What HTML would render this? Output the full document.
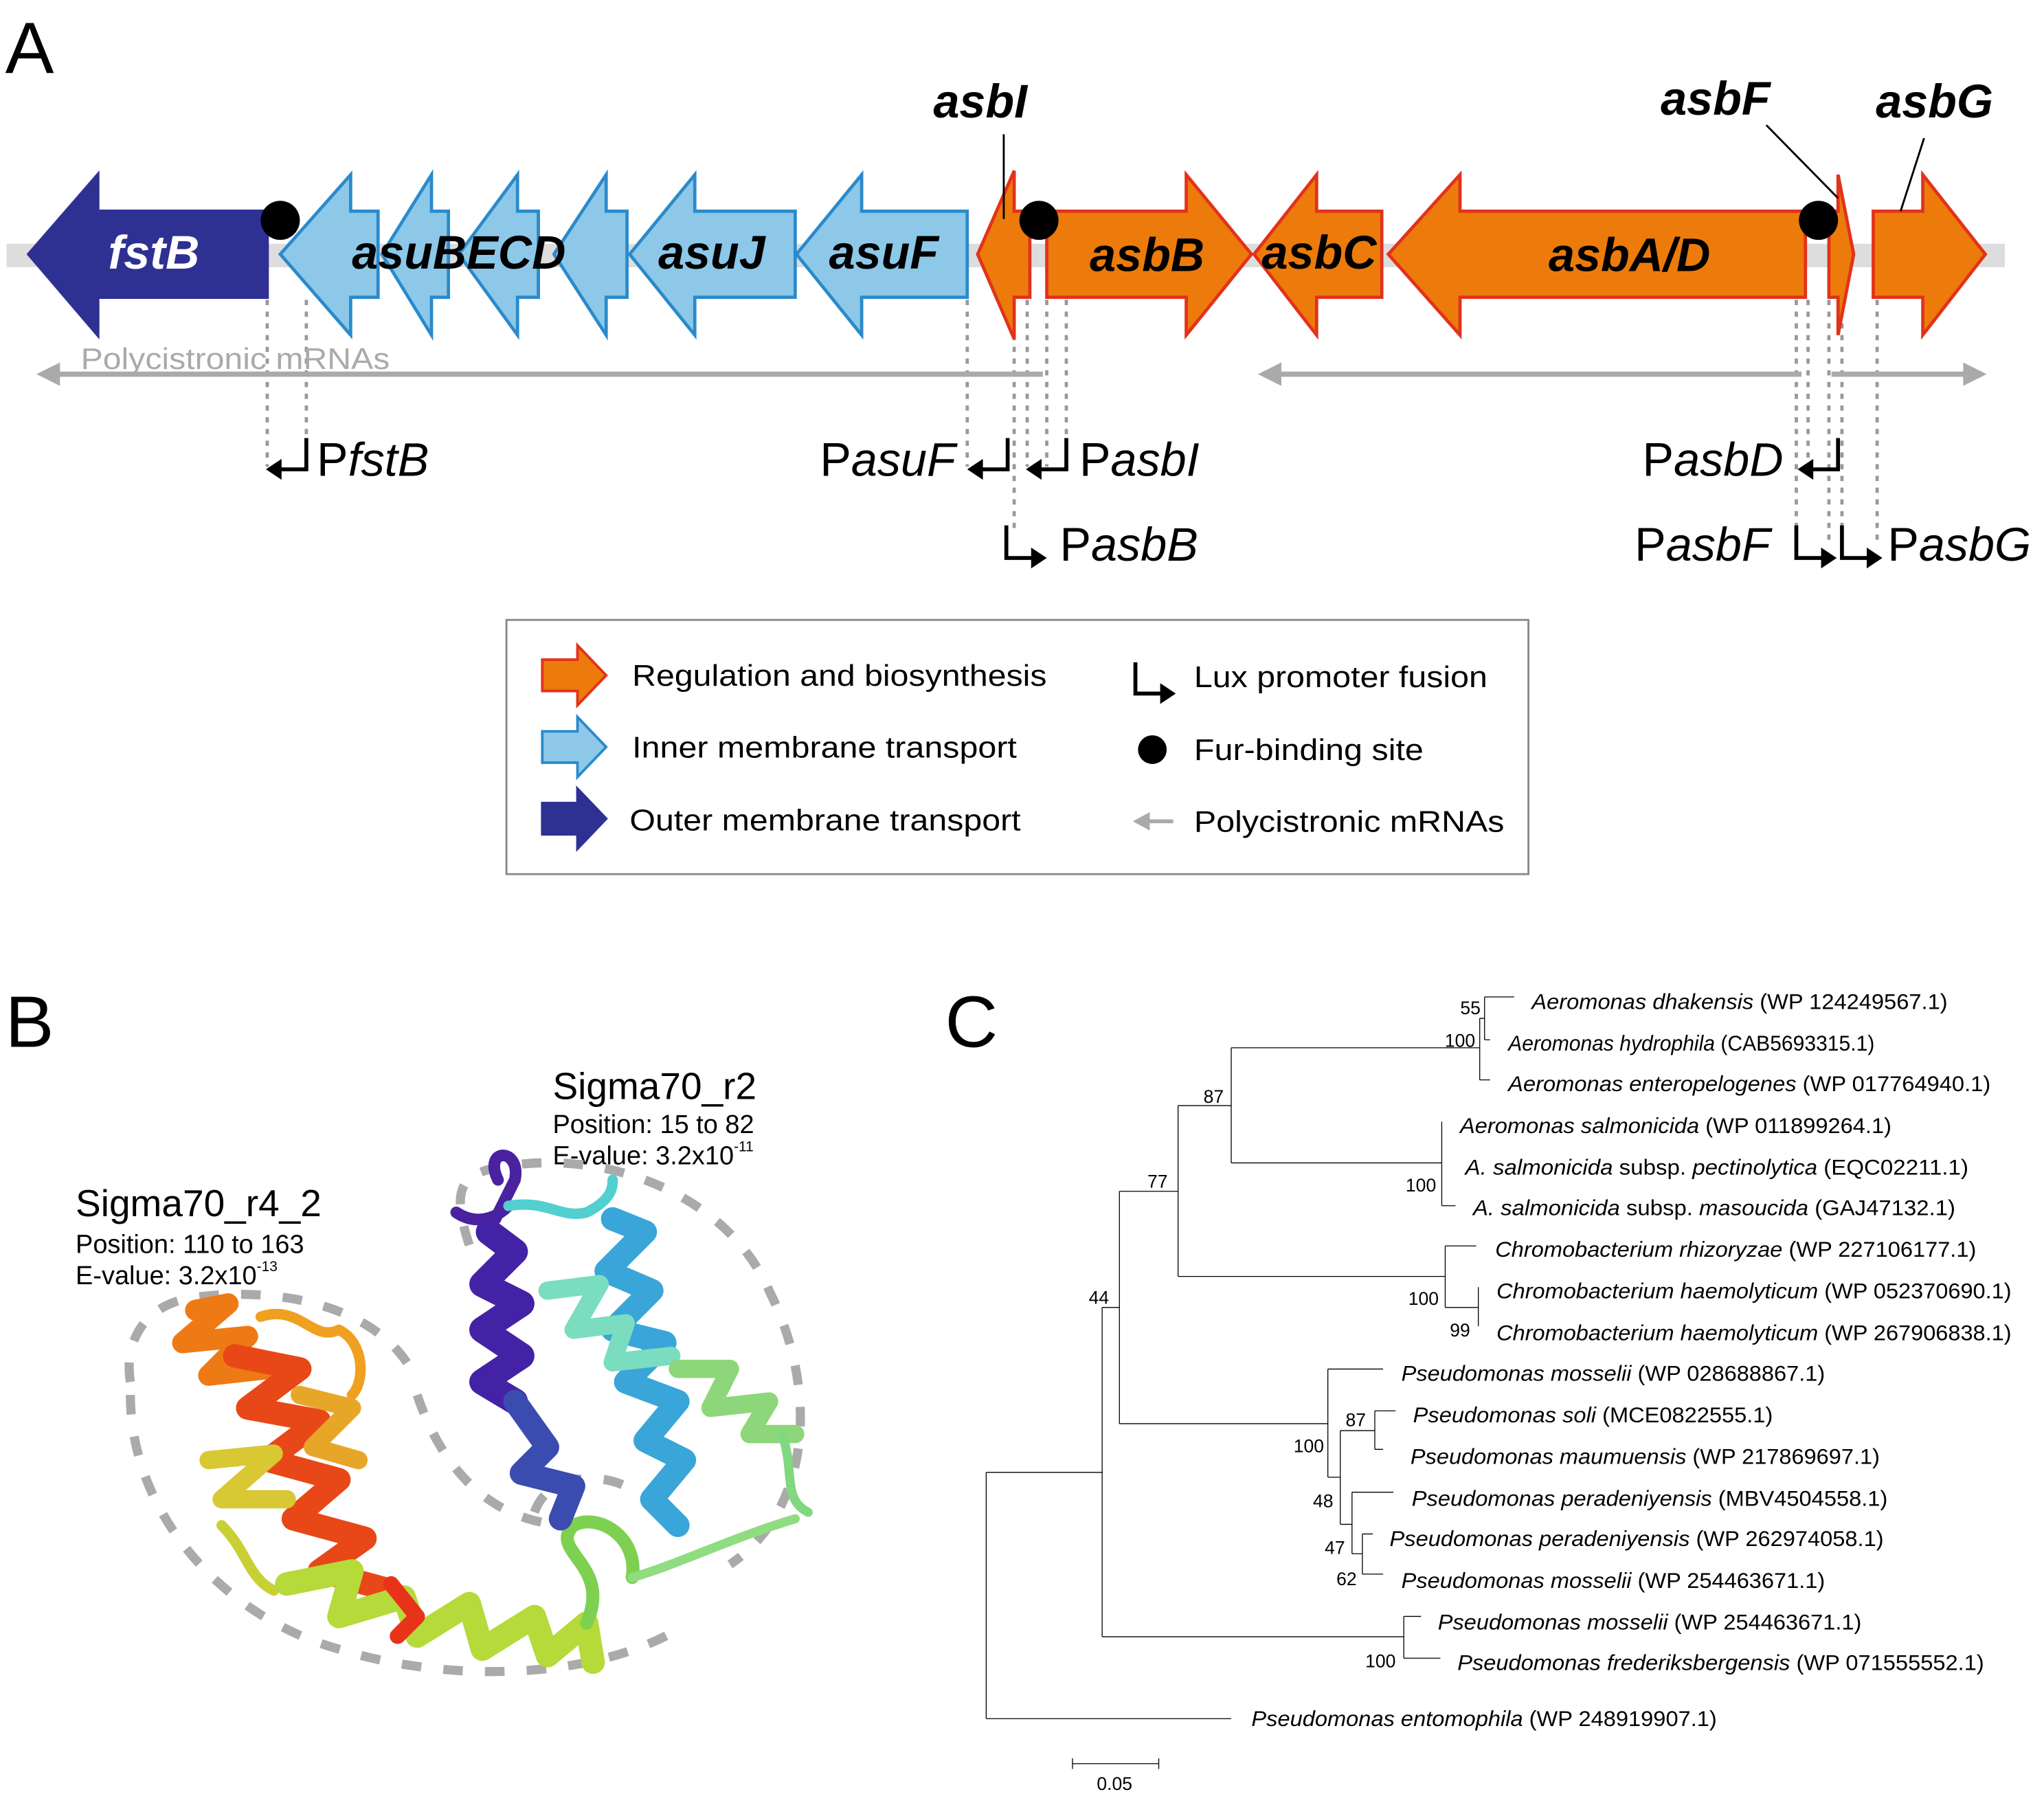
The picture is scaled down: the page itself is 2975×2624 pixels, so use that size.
<!DOCTYPE html>
<html><head><meta charset="utf-8"><style>html,body{margin:0;padding:0;background:#fff}svg{display:block}</style></head><body>
<svg width="2975" height="2624" viewBox="0 0 1568 1383" xmlns="http://www.w3.org/2000/svg" font-family="Liberation Sans, sans-serif">
<rect width="1568" height="1383" fill="#fff"/>
<text x="4" y="56" font-size="56">A</text>
<text x="4" y="803" font-size="56">B</text>
<text x="725" y="803" font-size="56">C</text>

<rect x="5" y="187" width="1533" height="18" fill="#ddd"/>

<g stroke="#999" stroke-width="2.5" stroke-dasharray="4,5">
<path d="M205 230V358M235 230V345M742 230V358M778 230V408M788 230V358M803 230V358M818 230V345M1378 230V418M1387 230V358M1403 230V418M1413 230V418M1440 230V418"/>
</g>

<g stroke-width="2.5" stroke-linejoin="miter">
<polygon points="22,195 75,134 75,162 205,162 205,228 75,228 75,257" fill="#2E3192" stroke="#2E3192"/>
<g fill="#8DC8E8" stroke="#2A8ACB">
<polygon points="425,195 465,134 465,162 481,162 481,228 465,228 465,257"/>
<polygon points="352,195 397,134 397,162 413,162 413,228 397,228 397,257"/>
<polygon points="293,195 331,134 331,162 344,162 344,228 331,228 331,257"/>
<polygon points="215,195 269,134 269,162 290,162 290,228 269,228 269,257"/>
<polygon points="483,195 533,134 533,162 610,162 610,228 533,228 533,257"/>
<polygon points="611,195 661,134 661,162 742,162 742,228 661,228 661,257"/>
</g>
<g fill="#EC7B0B" stroke="#E2321C">
<polygon points="750,195 778,131 778,162 790,162 790,228 778,228 778,260"/>
<polygon points="803,162 910,162 910,134 960,195 910,257 910,228 803,228"/>
<polygon points="962,195 1010,134 1010,162 1060,162 1060,228 1010,228 1010,257"/>
<polygon points="1065,195 1120,134 1120,162 1385,162 1385,228 1120,228 1120,257"/>
<polygon points="1403,162 1410,162 1410,134 1422,195 1410,257 1410,228 1403,228"/>
<polygon points="1437,162 1475,162 1475,134 1523,195 1475,257 1475,228 1437,228"/>
</g>
</g>
<g font-weight="bold" font-style="italic" font-size="36">
<text x="118" y="206" text-anchor="middle" fill="#fff">fstB</text>
<text x="352" y="206" text-anchor="middle">asuBECD</text>
<text x="546" y="206" text-anchor="middle">asuJ</text>
<text x="678" y="206" text-anchor="middle">asuF</text>
<text x="880" y="208" text-anchor="middle">asbB</text>
<text x="1012" y="206" text-anchor="middle">asbC</text>
<text x="1250" y="208" text-anchor="middle">asbA/D</text>
<text x="752" y="90" text-anchor="middle">asbI</text>
<text x="1316" y="88" text-anchor="middle">asbF</text>
<text x="1484" y="90" text-anchor="middle">asbG</text>
</g>
<g stroke="#000" stroke-width="1.5">
<path d="M770 103V168M1355 96L1410 152M1476 106L1458 162"/>
</g>
<g fill="#000"><circle cx="215" cy="169" r="15"/><circle cx="797" cy="169" r="15"/><circle cx="1395" cy="169" r="15"/></g>

<g stroke="#aaa" stroke-width="4" fill="#aaa">
<path d="M40 287H800M978 287H1382M1405 287H1510"/>
</g>
<g fill="#aaa"><polygon points="28,287 46,278 46,296"/><polygon points="965,287 983,278 983,296"/><polygon points="1524,287 1506,278 1506,296"/></g>
<text x="62" y="283" font-size="23" fill="#aaa" textLength="237" lengthAdjust="spacingAndGlyphs">Polycistronic mRNAs</text>

<g stroke="#000" stroke-width="3" fill="none">
<path d="M235 336V360H214"/><path d="M773 336V360H752"/><path d="M818 336V360H797"/><path d="M1410 336V360H1389"/>
<path d="M772 403V428H793"/><path d="M1378 403V428H1399"/><path d="M1413 403V428H1434"/>
</g>
<g fill="#000">
<polygon points="204,360 216,352 216,368"/><polygon points="742,360 754,352 754,368"/><polygon points="787,360 799,352 799,368"/><polygon points="1379,360 1391,352 1391,368"/>
<polygon points="803,428 791,420 791,436"/><polygon points="1409,428 1397,420 1397,436"/><polygon points="1444,428 1432,420 1432,436"/>
</g>
<g font-size="36">
<text x="243" y="365">P<tspan font-style="italic">fstB</tspan></text>
<text x="733" y="365" text-anchor="end">P<tspan font-style="italic">asuF</tspan></text>
<text x="828" y="365">P<tspan font-style="italic">asbI</tspan></text>
<text x="813" y="430">P<tspan font-style="italic">asbB</tspan></text>
<text x="1368" y="365" text-anchor="end">P<tspan font-style="italic">asbD</tspan></text>
<text x="1358" y="430" text-anchor="end">P<tspan font-style="italic">asbF</tspan></text>
<text x="1448" y="430">P<tspan font-style="italic">asbG</tspan></text>
</g>

<rect x="388.5" y="475.5" width="784" height="195" fill="#fff" stroke="#888" stroke-width="1.5"/>
<polygon points="416,506 443,506 443,495 465,518 443,541 443,530 416,530" fill="#EC7B0B" stroke="#E2321C" stroke-width="2"/>
<polygon points="416,561 443,561 443,550 465,573 443,596 443,585 416,585" fill="#8DC8E8" stroke="#2A8ACB" stroke-width="2"/>
<polygon points="416,616 443,616 443,605 465,628 443,651 443,640 416,640" fill="#2E3192" stroke="#2E3192" stroke-width="2"/>
<g font-size="23" lengthAdjust="spacingAndGlyphs">
<text x="485" y="526" textLength="318" lengthAdjust="spacingAndGlyphs">Regulation and biosynthesis</text>
<text x="485" y="581" textLength="295" lengthAdjust="spacingAndGlyphs">Inner membrane transport</text>
<text x="483" y="637" textLength="300" lengthAdjust="spacingAndGlyphs">Outer membrane transport</text>
<text x="916" y="527" textLength="225" lengthAdjust="spacingAndGlyphs">Lux promoter fusion</text>
<text x="916" y="583" textLength="176" lengthAdjust="spacingAndGlyphs">Fur-binding site</text>
<text x="916" y="638" textLength="238" lengthAdjust="spacingAndGlyphs">Polycistronic mRNAs</text>
</g>
<path d="M871 508V532H892" stroke="#000" stroke-width="3" fill="none"/><polygon points="902,532 890,524 890,540"/>
<circle cx="884" cy="575" r="11"/>
<path d="M880 630H900" stroke="#aaa" stroke-width="3"/><polygon points="869,630 882,623 882,637" fill="#aaa"/>

<text x="424" y="843" font-size="29">Sigma70_r2</text>
<text x="424" y="869" font-size="20">Position: 15 to 82</text>
<text x="424" y="893" font-size="20">E-value: 3.2x10<tspan font-size="11" dy="-10">-11</tspan></text>
<text x="58" y="933" font-size="29">Sigma70_r4_2</text>
<text x="58" y="961" font-size="20">Position: 110 to 163</text>
<text x="58" y="985" font-size="20">E-value: 3.2x10<tspan font-size="11" dy="-10">-13</tspan></text>

<g fill="none" stroke="#aaa" stroke-width="7" stroke-dasharray="15,17">
<path d="M100 1060C95 1030 110 1000 150 995C230 985 300 1010 320 1060"/>
<path d="M100 1070C100 1160 170 1240 260 1265C340 1290 450 1290 520 1250"/>
<path d="M360 955C345 910 355 900 385 895C470 880 560 920 590 990C630 1070 620 1160 560 1200"/>
<path d="M320 1070C340 1130 380 1170 440 1170"/>
<path d="M410 1160C420 1130 460 1130 480 1140"/>
</g>
<g fill="none" stroke-linecap="round" stroke-linejoin="round">
<path d="M150 1005L175 1000L140 1030L190 1025L160 1055L205 1050" stroke="#EE7A15" stroke-width="16"/>
<path d="M200 1010C230 1000 240 1030 260 1020C280 1030 280 1060 270 1070" stroke="#F0A020" stroke-width="8"/>
<path d="M180 1040L230 1050L190 1080L245 1090L205 1120L260 1135L225 1165L280 1180L245 1205L300 1220" stroke="#E84818" stroke-width="18"/>
<path d="M230 1070L270 1080L240 1110L275 1120" stroke="#E8A628" stroke-width="14"/>
<path d="M160 1120L210 1115L170 1150L220 1150" stroke="#D8C834" stroke-width="14"/>
<path d="M170 1170C190 1190 190 1210 210 1220" stroke="#C9D034" stroke-width="8"/>
<path d="M220 1215L270 1205L260 1240L310 1225L320 1255L360 1230L370 1265L410 1240L420 1270L450 1245L455 1275" stroke="#B5DA3A" stroke-width="18"/>
<path d="M300 1215L320 1240L305 1255" stroke="#E8331A" stroke-width="12"/>
<path d="M450 1245C470 1200 420 1190 440 1170C460 1160 490 1180 485 1210" stroke="#7DD050" stroke-width="10"/>
<path d="M485 1210C520 1200 560 1180 610 1165" stroke="#90DC80" stroke-width="7"/>
<path d="M382 905C370 880 400 880 395 905L380 935M350 930C365 940 380 935 390 925" stroke="#4A22A0" stroke-width="9"/>
<path d="M375 945L395 960L370 985L400 1000L370 1020L400 1040L370 1060L395 1075" stroke="#4422A5" stroke-width="20"/>
<path d="M395 1075L420 1110L400 1130L440 1140L430 1165" stroke="#3A4CB0" stroke-width="18"/>
<path d="M390 925C420 920 430 935 450 930C470 920 470 910 470 905" stroke="#52CFCF" stroke-width="8"/>
<path d="M470 935L495 945L465 975L500 990L470 1020L510 1030L480 1060L520 1075L495 1105L525 1120L500 1150L520 1170" stroke="#3AA5D8" stroke-width="18"/>
<path d="M420 990L460 985L440 1020L480 1015L470 1045L515 1040" stroke="#7ADDC0" stroke-width="14"/>
<path d="M520 1050L560 1050L545 1080L590 1075L575 1100L610 1100" stroke="#8ED67A" stroke-width="14"/>
<path d="M600 1100C610 1130 600 1150 620 1160" stroke="#80D880" stroke-width="7"/>
</g>

<g transform="matrix(0.5295 0 0 0.4107 738 738)" fill="none" stroke="#000" stroke-width="1.3">
<path vector-effect="non-scaling-stroke" d="M35 953V1413M35 1413H390M35 953H203M203 645V1260M203 1260H640M640 1222V1300M640 1222H665M640 1300H693M203 645H228M228 428V862M228 862H530M228 428H313M313 268V587M313 587H700M700 530V645M700 530H745M700 645H748M748 607V680M313 268H390M390 160V375M390 375H695M695 298V455M695 455H715M390 160H750M750 105V220M750 220H765M750 105H757M757 65V145M757 65H800M757 145H765M530 760V962M530 760H610M530 962H548M548 875V1050M548 875H598M598 838V910M598 838H628M598 910H610M548 1050H565M565 990V1105M565 990H625M565 1105H580M580 1068V1143M580 1068H595M580 1143H610M160 1497H285M160 1487V1507M285 1487V1507"/>
</g>
<g font-size="14">
<text x="1128" y="778" text-anchor="middle">55</text>
<text x="1120" y="803" text-anchor="middle">100</text>
<text x="931" y="846" text-anchor="middle">87</text>
<text x="1090" y="914" text-anchor="middle">100</text>
<text x="888" y="911" text-anchor="middle">77</text>
<text x="1092" y="1001" text-anchor="middle">100</text>
<text x="1120" y="1025" text-anchor="middle">99</text>
<text x="843" y="1000" text-anchor="middle">44</text>
<text x="1040" y="1094" text-anchor="middle">87</text>
<text x="1004" y="1114" text-anchor="middle">100</text>
<text x="1015" y="1156" text-anchor="middle">48</text>
<text x="1024" y="1192" text-anchor="middle">47</text>
<text x="1033" y="1216" text-anchor="middle">62</text>
<text x="1059" y="1279" text-anchor="middle">100</text>
<text x="855" y="1373" text-anchor="middle">0.05</text>
</g>
<g font-size="16.5">
<text x="1175" y="774" textLength="319" lengthAdjust="spacingAndGlyphs"><tspan font-style="italic">Aeromonas dhakensis</tspan> (WP 124249567.1)</text>
<text x="1157" y="806" textLength="281" lengthAdjust="spacingAndGlyphs"><tspan font-style="italic">Aeromonas hydrophila</tspan> (CAB5693315.1)</text>
<text x="1157" y="837" textLength="370" lengthAdjust="spacingAndGlyphs"><tspan font-style="italic">Aeromonas enteropelogenes</tspan> (WP 017764940.1)</text>
<text x="1120" y="869" textLength="331" lengthAdjust="spacingAndGlyphs"><tspan font-style="italic">Aeromonas salmonicida</tspan> (WP 011899264.1)</text>
<text x="1124" y="901" textLength="386" lengthAdjust="spacingAndGlyphs"><tspan font-style="italic">A. salmonicida</tspan> subsp. <tspan font-style="italic">pectinolytica</tspan> (EQC02211.1)</text>
<text x="1130" y="932" textLength="370" lengthAdjust="spacingAndGlyphs"><tspan font-style="italic">A. salmonicida</tspan> subsp. <tspan font-style="italic">masoucida</tspan> (GAJ47132.1)</text>
<text x="1147" y="964" textLength="369" lengthAdjust="spacingAndGlyphs"><tspan font-style="italic">Chromobacterium rhizoryzae</tspan> (WP 227106177.1)</text>
<text x="1148" y="996" textLength="395" lengthAdjust="spacingAndGlyphs"><tspan font-style="italic">Chromobacterium haemolyticum</tspan> (WP 052370690.1)</text>
<text x="1148" y="1028" textLength="395" lengthAdjust="spacingAndGlyphs"><tspan font-style="italic">Chromobacterium haemolyticum</tspan> (WP 267906838.1)</text>
<text x="1075" y="1059" textLength="325" lengthAdjust="spacingAndGlyphs"><tspan font-style="italic">Pseudomonas mosselii</tspan> (WP 028688867.1)</text>
<text x="1084" y="1091" textLength="276" lengthAdjust="spacingAndGlyphs"><tspan font-style="italic">Pseudomonas soli</tspan> (MCE0822555.1)</text>
<text x="1082" y="1123" textLength="360" lengthAdjust="spacingAndGlyphs"><tspan font-style="italic">Pseudomonas maumuensis</tspan> (WP 217869697.1)</text>
<text x="1083" y="1155" textLength="365" lengthAdjust="spacingAndGlyphs"><tspan font-style="italic">Pseudomonas peradeniyensis</tspan> (MBV4504558.1)</text>
<text x="1066" y="1186" textLength="379" lengthAdjust="spacingAndGlyphs"><tspan font-style="italic">Pseudomonas peradeniyensis</tspan> (WP 262974058.1)</text>
<text x="1075" y="1218" textLength="325" lengthAdjust="spacingAndGlyphs"><tspan font-style="italic">Pseudomonas mosselii</tspan> (WP 254463671.1)</text>
<text x="1103" y="1250" textLength="325" lengthAdjust="spacingAndGlyphs"><tspan font-style="italic">Pseudomonas mosselii</tspan> (WP 254463671.1)</text>
<text x="1118" y="1281" textLength="404" lengthAdjust="spacingAndGlyphs"><tspan font-style="italic">Pseudomonas frederiksbergensis</tspan> (WP 071555552.1)</text>
<text x="960" y="1324" textLength="357" lengthAdjust="spacingAndGlyphs"><tspan font-style="italic">Pseudomonas entomophila</tspan> (WP 248919907.1)</text>
</g>
</svg>
</body></html>
